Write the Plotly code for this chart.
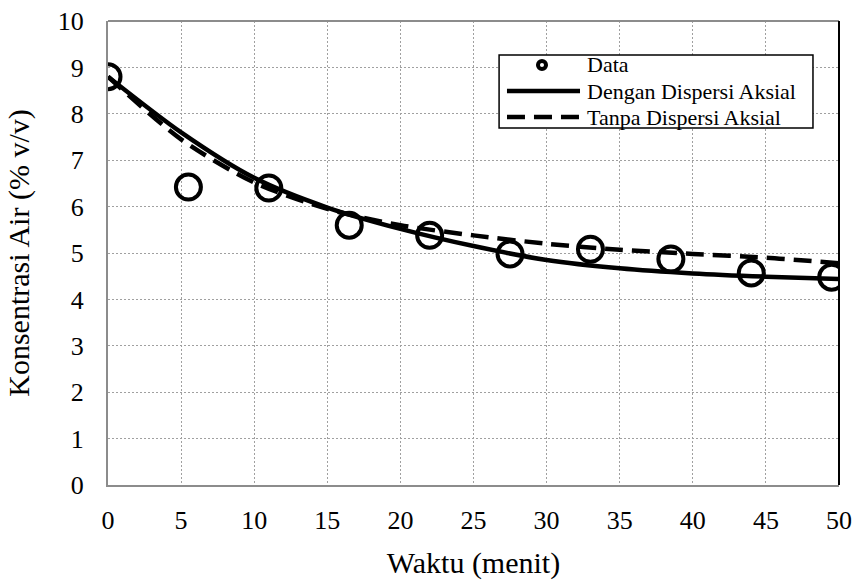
import plotly.graph_objects as go

# Measured water concentration over time
t_data = [0, 5.5, 11, 16.5, 22, 27.5, 33, 38.5, 44, 49.5]
c_data = [8.8, 6.42, 6.4, 5.6, 5.38, 4.98, 5.08, 4.87, 4.57, 4.48]

# Model curves
t_model = [0, 5, 10, 15, 20, 25, 30, 35, 40, 45, 50]
c_axial = [8.8, 7.6, 6.62, 5.98, 5.52, 5.15, 4.85, 4.67, 4.56, 4.49, 4.44]
c_no_axial = [8.8, 7.45, 6.52, 5.95, 5.6, 5.38, 5.2, 5.07, 4.98, 4.9, 4.78]

x_ticks = [0, 5, 10, 15, 20, 25, 30, 35, 40, 45, 50]
y_ticks = [0, 1, 2, 3, 4, 5, 6, 7, 8, 9, 10]

legend_labels = ["Data", "Dengan Dispersi Aksial", "Tanpa Dispersi Aksial"]

FONT = "Liberation Serif, Times New Roman, serif"
DASH = "18px,9px"

fig = go.Figure()
fig.add_trace(go.Scatter(
    x=t_data, y=c_data, mode="markers", name=legend_labels[0], showlegend=False,
    marker=dict(symbol="circle-open", size=25, color="black",
                line=dict(width=4, color="black")),
))
fig.add_trace(go.Scatter(
    x=t_model, y=c_axial, mode="lines", name=legend_labels[1], showlegend=False,
    line=dict(color="black", width=4.5, shape="spline", smoothing=0.8),
))
fig.add_trace(go.Scatter(
    x=t_model, y=c_no_axial, mode="lines", name=legend_labels[2], showlegend=False,
    line=dict(color="black", width=4.5, dash=DASH, shape="spline", smoothing=0.8),
))

axis_common = dict(
    showgrid=True, gridcolor="#a0a0a0", gridwidth=1.2, griddash="2px,2px",
    showline=True, linecolor="#8c8c8c", linewidth=2,
    ticks="", zeroline=False, automargin=False,
    tickfont=dict(family=FONT, size=26, color="black"),
)

fig.update_layout(
    width=857, height=582,
    margin=dict(l=108, r=18, t=21, b=97),
    paper_bgcolor="white", plot_bgcolor="white",
    font=dict(family=FONT, color="black"),
    showlegend=False,
    xaxis=dict(
        range=[0, 50], tickvals=x_ticks, ticklabelstandoff=11,
        title=dict(text="Waktu (menit)", font=dict(family=FONT, size=30), standoff=18),
        **axis_common,
    ),
    yaxis=dict(
        range=[0, 10], tickvals=y_ticks, ticklabelstandoff=17,
        title=dict(text="Konsentrasi Air (% v/v)", font=dict(family=FONT, size=30), standoff=19),
        **axis_common,
    ),
)

# Frame: grey top edge, black right edge
fig.add_shape(type="line", xref="paper", yref="paper", x0=0, x1=1, y0=1, y1=1,
              line=dict(color="#8c8c8c", width=2))
fig.add_shape(type="line", xref="paper", yref="paper", x0=1, x1=1, y0=0, y1=1,
              line=dict(color="black", width=2))

# Legend box drawn in paper coordinates
box_x0, box_x1 = 0.535, 0.9644
box_y0, box_y1 = 0.7694, 0.9267
row_y = [0.9052, 0.8491, 0.7931]
sample_x0, sample_x1 = 0.5458, 0.6457
text_x = 0.6525

fig.add_shape(type="rect", xref="paper", yref="paper",
              x0=box_x0, x1=box_x1, y0=box_y0, y1=box_y1,
              line=dict(color="black", width=1.5), fillcolor="white", layer="above")
# Data marker sample
cx, rx, ry = 0.5937, 0.0055, 0.0087
fig.add_shape(type="circle", xref="paper", yref="paper",
              x0=cx - rx, x1=cx + rx, y0=row_y[0] - ry, y1=row_y[0] + ry,
              line=dict(color="black", width=4), layer="above")
# Line samples
fig.add_shape(type="line", xref="paper", yref="paper",
              x0=sample_x0, x1=sample_x1, y0=row_y[1], y1=row_y[1],
              line=dict(color="black", width=4.5), layer="above")
fig.add_shape(type="line", xref="paper", yref="paper",
              x0=sample_x0, x1=sample_x1, y0=row_y[2], y1=row_y[2],
              line=dict(color="black", width=4.5, dash=DASH), layer="above")
for label, y in zip(legend_labels, row_y):
    fig.add_annotation(xref="paper", yref="paper", x=text_x, y=y, text=label,
                       showarrow=False, xanchor="left", yanchor="middle",
                       font=dict(family=FONT, size=22, color="black"))

fig.write_html("out.html")
